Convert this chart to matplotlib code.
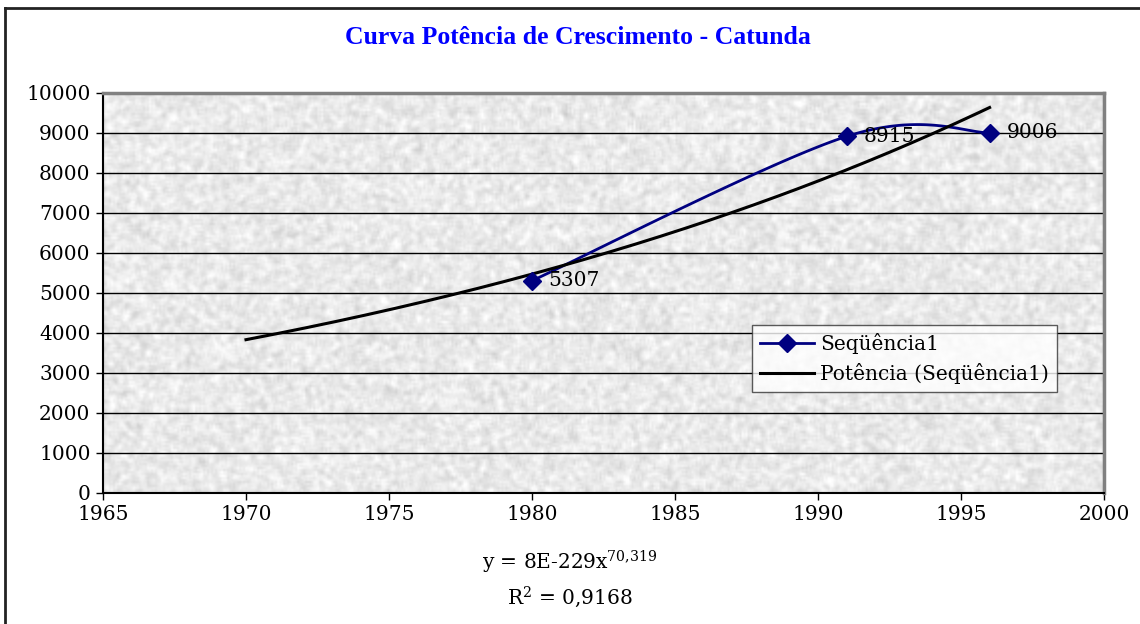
import numpy as np
import matplotlib
matplotlib.use("Agg")
import matplotlib.pyplot as plt
from matplotlib.lines import Line2D

# data
years = [1980, 1991, 1996]
values = [5307, 8915, 9006]
trend_start = 1970
title = "Curva Potência de Crescimento - Catunda"
series_name = "Seqüência1"
trend_name = "Potência (Seqüência1)"
eq_text = r"y = 8E-229x$^{\mathregular{70{,}319}}$"
r2_text = r"R$^{\mathregular{2}}$ = 0,9168"
xticks = [1965, 1970, 1975, 1980, 1985, 1990, 1995, 2000]
yticks = list(range(0, 10001, 1000))

NAVY = "#000080"
SERIF = "DejaVu Serif"
FS = 14.5


def excel_smooth(xs, ys, n=60):
    # bezier segments, control points like Excel's smoothed line
    px = np.array(xs, float)
    py = np.array(ys, float)
    m = len(px)
    out_x, out_y = [], []
    t = np.linspace(0, 1, n)
    for i in range(m - 1):
        a = max(i - 1, 0)
        b = min(i + 2, m - 1)
        c1x = px[i] + (px[i + 1] - px[a]) / 6
        c1y = py[i] + (py[i + 1] - py[a]) / 6
        c2x = px[i + 1] - (px[b] - px[i]) / 6
        c2y = py[i + 1] - (py[b] - py[i]) / 6
        bx = (1 - t) ** 3 * px[i] + 3 * (1 - t) ** 2 * t * c1x + 3 * (1 - t) * t ** 2 * c2x + t ** 3 * px[i + 1]
        by = (1 - t) ** 3 * py[i] + 3 * (1 - t) ** 2 * t * c1y + 3 * (1 - t) * t ** 2 * c2y + t ** 3 * py[i + 1]
        out_x.extend(bx)
        out_y.extend(by)
    return np.array(out_x), np.array(out_y)


# power trendline fitted in log space, same as Excel
b, a = np.polyfit(np.log(years), np.log(values), 1)
tx = np.linspace(trend_start, years[-1], 200)
ty = np.exp(a) * tx ** b

fig = plt.figure(figsize=(11.4, 6.24), dpi=100)
plt.rcParams["font.family"] = SERIF
plt.rcParams["mathtext.fontset"] = "dejavuserif"

# outer chart frame (only top/left edges visible)
fig.add_artist(Line2D([5 / 1140, 5 / 1140], [0, 1 - 8 / 624], color="#222222", lw=2))
fig.add_artist(Line2D([5 / 1140, 1], [1 - 8 / 624, 1 - 8 / 624], color="#222222", lw=2))

ax = fig.add_axes([103 / 1140, 131 / 624, 1001 / 1140, 400 / 624])

# grey textured plot area
rng = np.random.default_rng(7)
noise = rng.random((200, 500))
k = np.ones(3) / 3
noise = np.apply_along_axis(lambda r: np.convolve(r, k, mode="same"), 1, noise)
noise = np.apply_along_axis(lambda c: np.convolve(c, k, mode="same"), 0, noise)
noise = (noise - noise.mean()) / noise.std()
tex = np.clip(0.915 + 0.03 * noise, 0, 1)
ax.imshow(tex, cmap="gray", vmin=0, vmax=1, extent=[1965, 2000, 0, 10000],
          aspect="auto", interpolation="bilinear", zorder=0)

for yv in yticks[1:-1]:
    ax.axhline(yv, color="black", lw=1, zorder=1)

sx, sy = excel_smooth(years, values)
ax.plot(sx, sy, color=NAVY, lw=2, zorder=3)
ax.plot(years, values, ls="none", marker="D", ms=9, color=NAVY, zorder=4)
ax.plot(tx, ty, color="black", lw=2.2, zorder=3)

for xv, yv in zip(years, values):
    ax.annotate(str(yv), (xv, yv), xytext=(12, 0), textcoords="offset points",
                va="center", ha="left", fontsize=FS, family=SERIF, zorder=5)

ax.set_xlim(1965, 2000)
ax.set_ylim(0, 10000)
ax.set_xticks(xticks)
ax.set_yticks(yticks)
ax.tick_params(labelsize=FS, length=5, width=1, direction="out", pad=4)

ax.spines["left"].set_color("black")
ax.spines["bottom"].set_color("black")
ax.spines["left"].set_linewidth(1.5)
ax.spines["bottom"].set_linewidth(1.5)
ax.spines["top"].set_color("#808080")
ax.spines["right"].set_color("#808080")
ax.spines["top"].set_linewidth(2.5)
ax.spines["right"].set_linewidth(2.5)

handles = [
    Line2D([], [], color=NAVY, lw=2, marker="D", ms=9),
    Line2D([], [], color="black", lw=2.2),
]
leg = ax.legend(handles, [series_name, trend_name], loc="upper left",
                bbox_to_anchor=(649 / 1001, 1 - 232 / 400), fontsize=FS,
                frameon=True, fancybox=False, handlelength=2.7, handletextpad=0.3,
                borderpad=0.4, labelspacing=0.45, borderaxespad=0)
leg.get_frame().set_edgecolor("#333333")
leg.get_frame().set_linewidth(1)
leg.set_zorder(6)

fig.text(578 / 1140, 1 - 37 / 624, title, ha="center", va="center",
         color="#0000ff", fontsize=18.5, fontweight="bold", family="Liberation Serif")
fig.text(570 / 1140, 1 - 562 / 624, eq_text, ha="center", va="center", fontsize=FS)
fig.text(570 / 1140, 1 - 597 / 624, r2_text, ha="center", va="center", fontsize=FS)

fig.savefig("out.png", dpi=100, facecolor="white")
